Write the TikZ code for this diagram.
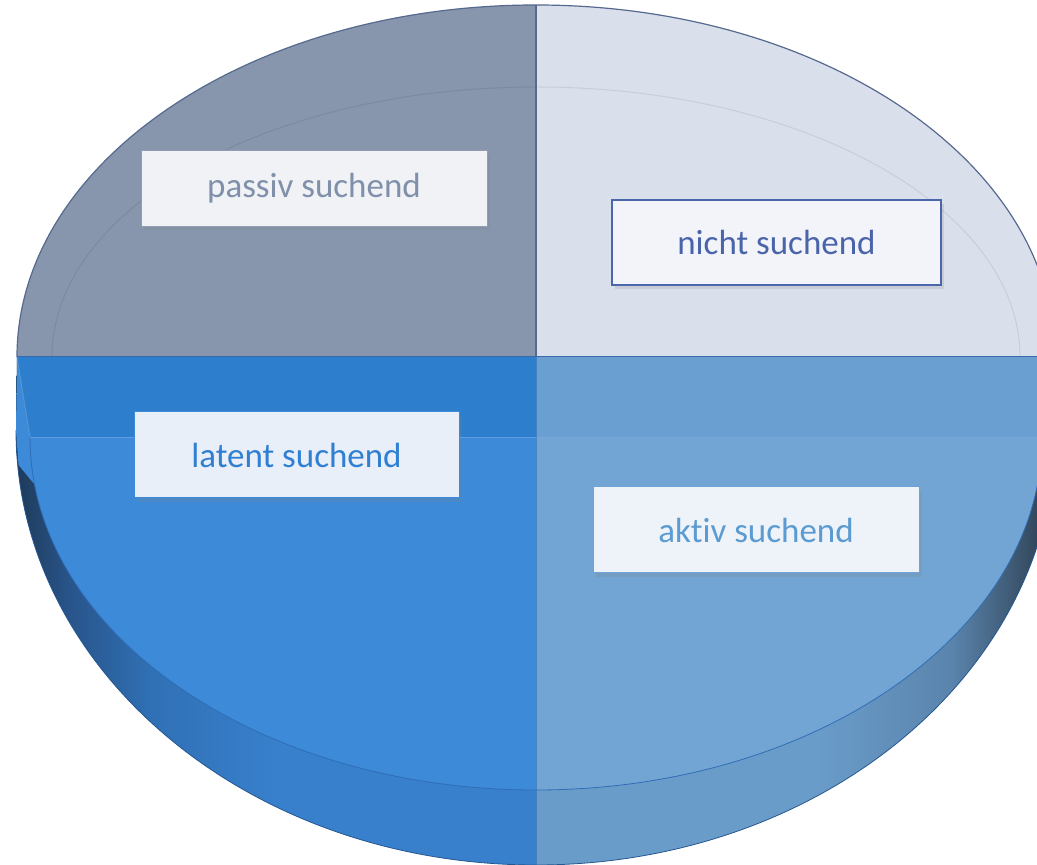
\documentclass[tikz,border=0pt]{standalone}
\usepackage{fontspec}
\setmainfont{Carlito}[Ligatures={NoRequired,NoCommon,NoContextual,NoRare}]
\usetikzlibrary{shadows}
\usepackage{xcolor}

\definecolor{grayTop}{HTML}{8796AD}
\definecolor{paleTop}{HTML}{DADFEC}
\definecolor{latFace}{HTML}{3D8AD8}
\definecolor{aktFace}{HTML}{72A5D3}
\definecolor{latStrip}{HTML}{2D7ECD}
\definecolor{aktStrip}{HTML}{6A9FD1}
\definecolor{rimLine}{HTML}{56698F}
\definecolor{midLine}{HTML}{3A68A8}
\definecolor{faceLine}{HTML}{2F6DB5}
\definecolor{bandDarkL}{HTML}{1E3A58}
\definecolor{bandDeepL}{HTML}{28548A}
\definecolor{bandMidL}{HTML}{3070B5}
\definecolor{bandL}{HTML}{3880CC}
\definecolor{bandR}{HTML}{6A9CCA}
\definecolor{bandMidR}{HTML}{5A84AC}
\definecolor{bandDarkR}{HTML}{34495F}
% Beschriftungen: Fuellung / Rand / Text
\definecolor{pasF}{HTML}{F0F2F5}
\definecolor{pasL}{HTML}{909DB2}
\definecolor{pasT}{HTML}{8090AA}
\definecolor{nicF}{HTML}{F3F4F9}
\definecolor{nicL}{HTML}{4A67AC}
\definecolor{nicT}{HTML}{4A64AA}
\definecolor{latF}{HTML}{E9EFF8}
\definecolor{latL}{HTML}{3D89D8}
\definecolor{latT}{HTML}{2F80D2}
\definecolor{aktF}{HTML}{EEF3FA}
\definecolor{aktL}{HTML}{6FA3D5}
\definecolor{aktT}{HTML}{5C9BD1}

\pgfdeclarehorizontalshading{bandleft}{100bp}{color(0bp)=(bandDarkL); color(25bp)=(bandDarkL);
  color(30bp)=(bandDeepL); color(38bp)=(bandMidL); color(50bp)=(bandL); color(100bp)=(bandL)}
\pgfdeclarehorizontalshading{bandright}{100bp}{color(0bp)=(bandR); color(52bp)=(bandR);
  color(65bp)=(bandMidR); color(73bp)=(bandDarkR); color(100bp)=(bandDarkR)}

\begin{document}
\begin{tikzpicture}[x=1pt, y=1pt,
  lab/.style={inner sep=0pt, font=\fontsize{35}{40}\selectfont,
              drop shadow={shadow xshift=3pt, shadow yshift=-4pt, opacity=.2}},
]
  \useasboundingbox (0,0) rectangle (1037,865);
  \clip (0,0) rectangle (1037,865);

  % Seitenband der unteren Haelfte
  \shade[shading=bandleft] (17,508) -- (16,435)
    arc[start angle=180, end angle=270, x radius=520, y radius=435] -- (536,508) -- cycle;
  \shade[shading=bandright] (536,0)
    arc[start angle=270, end angle=360, x radius=520, y radius=435] -- (1055,508) -- (536,508) -- cycle;
  \draw[faceLine!80!black, line width=.8] (16,435)
    arc[start angle=180, end angle=360, x radius=520, y radius=435];
  \fill[latFace] (17,508) -- (16,435) -- (18.5,400) -- (35,380) -- (30,428) -- cycle;

  % Deckflaeche unten
  \fill[latFace] (536,428) -- (30,428)
    arc[start angle=180, end angle=270, x radius=506, y radius=353] -- cycle;
  \fill[aktFace] (536,428) -- (536,75)
    arc[start angle=270, end angle=360, x radius=506, y radius=353] -- cycle;
  \draw[faceLine, line width=.8] (30,428)
    arc[start angle=180, end angle=360, x radius=506, y radius=353];

  % Streifen
  \fill[latStrip] (17,508) -- (536,508) -- (536,428) -- (30,428) -- cycle;
  \fill[aktStrip] (536,508) -- (1055,508) -- (1042,428) -- (536,428) -- cycle;
  \draw[latFace!70!white, opacity=.6, line width=.8] (30,428) -- (1042,428);
  \draw[latFace!70!white, opacity=.6, line width=.8] (17,508) -- (30,428);
  \draw[faceLine, opacity=.6, line width=.8] (536,508) -- (536,0);

  % obere Haelfte
  \fill[grayTop] (536,508) -- (17,508)
    arc[start angle=180, end angle=90, x radius=519, y radius=352] -- cycle;
  \fill[paleTop] (536,508) -- (536,860)
    arc[start angle=90, end angle=0, x radius=519, y radius=352] -- cycle;
  \draw[black, opacity=.08, line width=1] (52,508)
    arc[start angle=180, end angle=0, x radius=484, y radius=270];
  \draw[rimLine, line width=1.2] (17,508)
    arc[start angle=180, end angle=0, x radius=519, y radius=352];
  \draw[rimLine, line width=1.2] (536,860) -- (536,508);
  \draw[midLine, line width=1] (17,508) -- (1055,508);

  \foreach \xn/\xx/\xy/\xw/\xh/\xlw/\xtxt in {%
    pas/314/677/346/76/.6/{passiv suchend},%
    nic/776.5/622.5/329/85/2/{nicht suchend},%
    lat/296.5/410/325/86/1/{latent suchend},%
    akt/756/335/326/86/1/{akt\kern0pt iv suchend}%
  } {
    \node[lab, fill=\xn F, draw=\xn L, text=\xn T, line width=\xlw pt,
          minimum width=\xw pt, minimum height=\xh pt] (\xn) at (\xx,\xy) {\xtxt};
  }
\end{tikzpicture}
\end{document}
